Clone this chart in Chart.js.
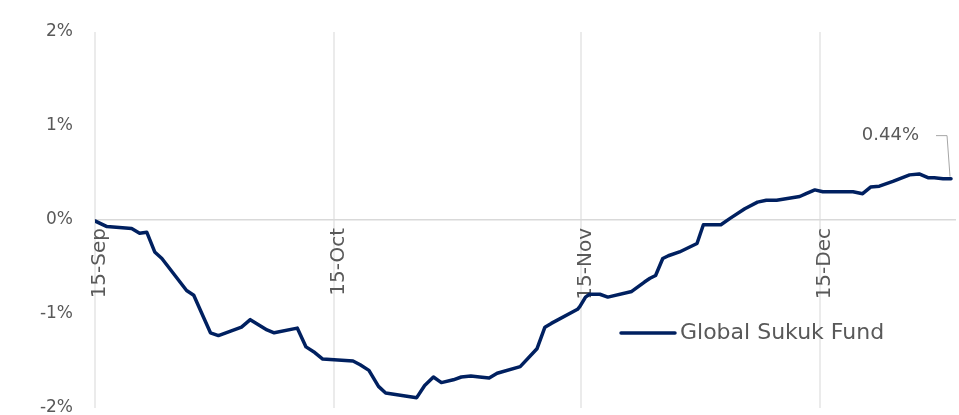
<!DOCTYPE html>
<html>
<head>
<meta charset="utf-8">
<script src="https://cdn.jsdelivr.net/npm/chart.js@4"></script>
<style>
  html, body { margin: 0; padding: 0; background: #ffffff; }
  #wrap { width: 959px; height: 415px; }
</style>
</head>
<body>
<div id="wrap"><canvas id="c" width="959" height="415"></canvas></div>
<script>
// ---- data (days since 15-Sep, cumulative return in %) ----
const seriesName = 'Global Sukuk Fund';
const days = [0, 1.5, 4.6, 5.6, 6.5, 7.5, 8.4, 11.5, 12.4, 13.6, 14.5, 15.5, 18.4, 19.5, 21.6, 22.5, 25.4, 26.5, 27.6, 28.6,
  32.4, 33.3, 34.4, 35.6, 36.5, 40.4, 41.4, 42.5, 43.5, 45.0, 46.0, 47.2, 48.3, 49.5, 50.5, 53.4, 55.5, 56.5, 57.3, 60.6,
  60.9, 61.6, 62.1, 63.4, 64.4, 67.4, 69.0, 69.7, 70.4, 71.3, 72.0, 73.4, 75.6, 76.4, 78.6, 79.8, 81.6, 83.2, 84.3, 85.6,
  88.5, 89.3, 90.4, 91.4, 95.2, 96.4, 97.4, 98.5, 100.2, 102.3, 103.5, 104.6, 105.4, 106.5, 107.5];
const values = [-0.01, -0.07, -0.09, -0.14, -0.13, -0.34, -0.41, -0.75, -0.80, -1.03, -1.20, -1.23, -1.14, -1.06, -1.17, -1.20, -1.15, -1.35, -1.41, -1.48,
  -1.50, -1.54, -1.60, -1.77, -1.84, -1.89, -1.76, -1.67, -1.73, -1.70, -1.67, -1.66, -1.67, -1.68, -1.63, -1.56, -1.37, -1.14, -1.10, -0.95,
  -0.92, -0.82, -0.79, -0.79, -0.82, -0.76, -0.66, -0.62, -0.59, -0.41, -0.38, -0.34, -0.25, -0.05, -0.05, 0.02, 0.12, 0.19, 0.21, 0.21,
  0.25, 0.28, 0.32, 0.30, 0.30, 0.28, 0.35, 0.36, 0.41, 0.48, 0.49, 0.45, 0.45, 0.44, 0.44];
const tickDays = [0, 30, 61, 91];
const tickLabels = ['15-Sep', '15-Oct', '15-Nov', '15-Dec'];
const yTicks = [-2, -1, 0, 1, 2];

const NAVY = '#002060';
const TEXT = '#595959';
const FONT = "'DejaVu Sans', sans-serif";

const points = days.map((d, i) => ({ x: d, y: values[i] }));

const extrasPlugin = {
  id: 'extras',
  afterDatasetsDraw(chart) {
    const ctx = chart.ctx;
    const area = chart.chartArea;
    // end-value annotation
    const meta = chart.getDatasetMeta(0);
    const last = meta.data[meta.data.length - 1];
    const px = last.x, py = last.y;
    ctx.save();
    ctx.strokeStyle = '#a6a6a6';
    ctx.lineWidth = 1;
    ctx.beginPath();
    ctx.moveTo(px - 15, py - 43);
    ctx.lineTo(px - 4, py - 43);
    ctx.lineTo(px - 1, py - 2);
    ctx.stroke();
    ctx.fillStyle = TEXT;
    ctx.font = "18px " + FONT;
    ctx.textAlign = 'right';
    ctx.textBaseline = 'middle';
    ctx.fillText(values[values.length - 1].toFixed(2) + '%', px - 32, py - 43);
    // legend
    const lx = area.left + 526, ly = area.top + 301;
    ctx.strokeStyle = NAVY;
    ctx.lineWidth = 3.5;
    ctx.lineCap = 'round';
    ctx.beginPath();
    ctx.moveTo(lx, ly);
    ctx.lineTo(lx + 54, ly);
    ctx.stroke();
    ctx.fillStyle = TEXT;
    ctx.font = "22px " + FONT;
    ctx.textAlign = 'left';
    ctx.textBaseline = 'middle';
    ctx.fillText(seriesName, lx + 59, ly);
    ctx.restore();
  }
};

new Chart(document.getElementById('c'), {
  type: 'line',
  data: {
    datasets: [{
      label: seriesName,
      data: points,
      borderColor: NAVY,
      backgroundColor: NAVY,
      borderWidth: 3.5,
      borderJoinStyle: 'round',
      borderCapStyle: 'round',
      pointRadius: 0,
      tension: 0,
      fill: false
    }]
  },
  options: {
    responsive: false,
    animation: false,
    events: [],
    layout: { padding: { top: 32, bottom: 7, left: 0, right: 4 } },
    plugins: { legend: { display: false }, tooltip: { enabled: false } },
    scales: {
      x: {
        type: 'linear',
        position: { y: 0 },
        min: 0,
        max: 108,
        afterBuildTicks(scale) { scale.ticks = tickDays.map(v => ({ value: v })); },
        grid: { display: true, color: '#ebebeb', lineWidth: 2, drawTicks: false },
        border: { display: true, color: '#d9d9d9', width: 1.5 },
        ticks: {
          autoSkip: false,
          minRotation: 90,
          maxRotation: 90,
          padding: 8,
          labelOffset: 5,
          color: TEXT,
          font: { family: FONT, size: 20 },
          callback(v) { const i = tickDays.indexOf(v); return i >= 0 ? tickLabels[i] : ''; }
        }
      },
      y: {
        type: 'linear',
        position: 'left',
        min: -2,
        max: 2,
        afterBuildTicks(scale) { scale.ticks = yTicks.map(v => ({ value: v })); },
        afterFit(scale) { scale.width = 95; scale.paddingTop = 0; scale.paddingBottom = 0; },
        grid: { display: false, drawTicks: false },
        border: { display: false },
        ticks: {
          padding: 22,
          color: TEXT,
          font: { family: FONT, size: 17 },
          callback(v) { return v + '%'; }
        }
      }
    }
  },
  plugins: [extrasPlugin]
});
</script>
</body>
</html>
